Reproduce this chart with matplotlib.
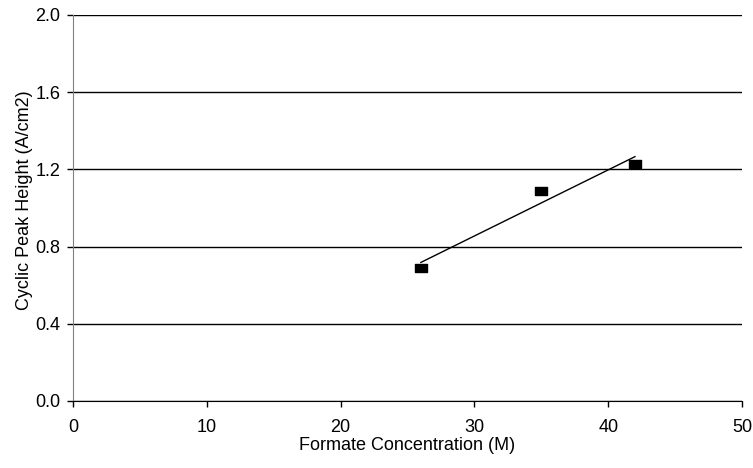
import numpy as np
import matplotlib
matplotlib.use("Agg")
import matplotlib.pyplot as plt
from matplotlib.path import Path

plt.rcParams["font.family"] = ["Liberation Sans", "DejaVu Sans"]
plt.rcParams["font.size"] = 13

# data
conc = [26, 35, 42]
peak = [0.69, 1.09, 1.23]
xticks = [0, 10, 20, 30, 40, 50]
yticks = [0.0, 0.4, 0.8, 1.2, 1.6, 2.0]

fig = plt.figure(figsize=(7.53, 4.68), dpi=100)
ax = fig.add_axes([0.0969, 0.1432, 0.8885, 0.8248])

# linear trendline over the data range
k, b = np.polyfit(conc, peak, 1)
xs = np.array([min(conc), max(conc)])
ax.plot(xs, k * xs + b, color="black", lw=1.0, zorder=3)

# wide rectangular markers like the original
rect = Path([(-0.7, -0.5), (0.7, -0.5), (0.7, 0.5), (-0.7, 0.5), (-0.7, -0.5)],
            [Path.MOVETO, Path.LINETO, Path.LINETO, Path.LINETO, Path.CLOSEPOLY])
ax.plot(conc, peak, linestyle="none", marker=rect, markersize=8,
        color="black", zorder=4)

ax.set_xlim(0, 50)
ax.set_ylim(0, 2.0)
ax.set_xticks(xticks)
ax.set_yticks(yticks)
ax.set_yticklabels([f"{v:.1f}" for v in yticks])
ax.yaxis.grid(True, color="black", lw=1.0)
ax.set_axisbelow(True)

for s in ["top", "right"]:
    ax.spines[s].set_visible(False)
ax.spines["left"].set_color("#808080")
ax.spines["bottom"].set_color("black")
ax.tick_params(direction="out", length=4, width=1, colors="black")
ax.tick_params(axis="x", pad=9)
ax.tick_params(axis="y", pad=5)

ax.set_xlabel("Formate Concentration (M)", labelpad=1)
ax.set_ylabel("Cyclic Peak Height (A/cm2)", labelpad=2)
ax.yaxis.label.set_y(0.52)

fig.savefig("out.png", dpi=100)
